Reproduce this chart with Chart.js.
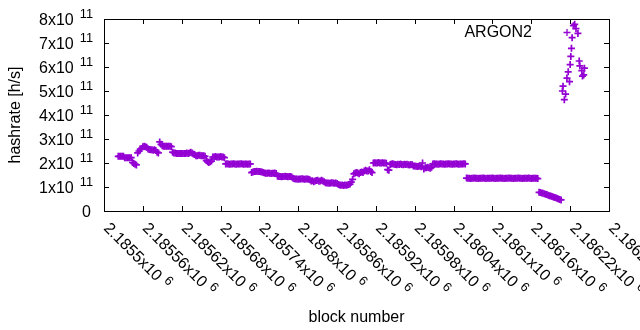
<!DOCTYPE html>
<html>
<head>
<meta charset="utf-8">
<script src="https://cdn.jsdelivr.net/npm/chart.js@4/dist/chart.umd.min.js"></script>
<style>
  html, body { margin: 0; padding: 0; background: #fff; }
  #wrap { width: 640px; height: 330px; }
</style>
</head>
<body>
<div id="wrap"><canvas id="c" width="640" height="330"></canvas></div>
<script>
/* ------------ data ------------ */
// block numbers of the plotted samples
const blockNumber = [
  2185522,2185524,2185526,2185528,2185530,2185532,2185534,2185536,2185538,2185540,2185542,
  2185544,2185546,2185548,2185550,
  2185552,2185554,2185556,2185558,
  2185560,2185562,2185564,2185566,
  2185568,2185570,2185572,2185574,2185576,2185578,2185580,
  2185582,2185584,
  2185586,2185588,
  2185590,2185592,2185594,2185596,2185598,2185600,2185602,2185604,
  2185606,2185608,2185610,2185612,2185614,2185616,2185618,2185620,2185622,2185624,2185626,2185628,2185630,2185632,2185634,2185636,2185638,2185640,
  2185642,2185644,2185646,2185648,2185650,2185652,2185654,2185656,2185658,
  2185660,2185662,2185664,2185666,
  2185668,2185670,2185672,2185674,2185676,2185678,2185680,2185682,2185684,2185686,
  2185688,2185690,2185692,2185694,2185696,2185698,2185700,2185702,2185704,2185706,2185708,2185710,2185712,2185714,2185716,2185718,2185720,2185722,2185724,2185726,
  2185728,2185730,2185732,2185734,2185736,2185738,2185740,2185742,2185744,
  2185746,2185748,2185750,2185752,2185754,2185756,2185758,2185760,2185762,2185764,2185766,
  2185768,2185770,2185772,2185774,2185776,2185778,2185780,2185782,2185784,2185786,2185788,2185790,
  2185792,2185794,2185796,2185798,2185800,2185802,2185804,2185806,2185808,2185810,2185812,2185814,2185816,2185818,
  2185820,2185822,2185824,2185826,2185828,2185830,2185832,2185834,2185836,2185838,2185840,
  2185842,2185844,2185846,2185848,2185850,2185852,2185854,2185856,2185858,2185860,
  2185862,2185864,2185866,2185868,2185870,2185872,2185874,2185876,2185878,2185880,
  2185882,2185884,
  2185886,2185888,2185890,2185892,2185894,2185896,2185898,2185900,
  2185902,2185904,2185906,2185908,2185910,2185912,2185914,
  2185916,2185918,2185920,2185922,2185924,2185926,2185928,2185930,2185932,2185934,2185936,
  2185938,2185940,
  2185942,2185944,2185946,2185948,2185950,2185952,2185954,2185956,2185958,2185960,2185962,2185964,2185966,2185968,2185970,2185972,2185974,2185976,
  2185978,2185980,2185982,2185984,2185986,2185988,2185990,
  2185992,2185994,
  2185996,2185998,2186000,2186002,2186004,2186006,
  2186008,2186010,2186012,2186014,2186016,2186018,2186020,2186022,2186024,2186026,2186028,2186030,2186032,
  2186034,2186036,2186038,2186040,2186042,2186044,2186046,2186048,2186050,2186052,2186054,2186056,2186058,
  2186060,2186062,2186064,2186066,2186068,2186070,2186072,2186074,2186076,2186078,
  2186080,2186082,2186084,2186086,2186088,2186090,2186092,2186094,2186096,2186098,
  2186100,2186102,2186104,2186106,2186108,2186110,2186112,2186114,2186116,2186118,
  2186120,2186122,2186124,2186126,2186128,2186130,2186132,2186134,2186136,2186138,
  2186140,2186142,2186144,2186146,2186148,2186150,2186152,2186154,2186156,2186158,
  2186160,2186162,2186164,2186166,2186168,2186170,
  2186172,2186174,2186176,2186178,2186180,2186182,2186184,2186186,2186188,2186190,2186192,2186194,2186196,2186198,2186200,2186202,2186204,2186206,
  2186208,2186209,2186211,2186213,2186215,2186217,2186219,2186220,2186221,2186222,2186223,
  2186225,2186227,2186229,2186232,2186234,2186235,2186238,2186239,2186241,2186242
];
// hashrate in units of 1e11 h/s, same order as blockNumber
const hashrate = [
  2.28,2.28,2.28,2.28,2.28,2.22,2.22,2.22,2.22,2.22,2.22,
  2.02,1.98,1.95,1.92,
  2.42,2.5,2.58,2.6,
  2.68,2.7,2.68,2.66,
  2.58,2.56,2.55,2.55,2.53,2.55,2.52,
  2.45,2.42,
  2.88,2.78,
  2.72,2.7,2.7,2.7,2.7,2.7,2.7,2.68,
  2.45,2.42,2.42,2.4,2.4,2.4,2.4,2.4,2.4,2.4,2.4,2.42,2.4,2.42,2.45,2.42,2.38,2.35,
  2.3,2.3,2.32,2.32,2.3,2.3,2.3,2.28,2.1,
  2.05,2.02,2.05,2.08,
  2.25,2.25,2.27,2.25,2.25,2.25,2.27,2.25,2.25,2.22,
  1.96,1.97,1.96,1.95,1.96,1.96,1.97,1.96,1.95,1.96,1.96,1.96,1.97,1.96,1.95,1.96,1.96,1.95,1.96,1.96,
  1.6,1.63,1.65,1.65,1.66,1.65,1.65,1.64,1.62,
  1.6,1.58,1.57,1.57,1.58,1.57,1.56,1.57,1.57,1.58,1.56,
  1.45,1.44,1.44,1.43,1.44,1.44,1.45,1.44,1.43,1.44,1.44,1.42,
  1.36,1.34,1.33,1.33,1.32,1.33,1.33,1.34,1.33,1.32,1.33,1.33,1.32,1.3,
  1.25,1.26,1.22,1.25,1.27,1.28,1.24,1.25,1.28,1.25,1.22,
  1.18,1.17,1.17,1.16,1.17,1.18,1.17,1.16,1.17,1.15,
  1.1,1.08,1.07,1.08,1.06,1.08,1.07,1.08,1.1,1.12,
  1.2,1.32,
  1.55,1.58,1.6,1.58,1.55,1.6,1.62,1.6,
  1.67,1.7,1.67,1.67,1.72,1.65,1.6,
  2.0,2.01,2.0,2.0,2.02,2.0,2.0,2.01,2.0,2.0,1.99,
  1.72,1.7,
  1.94,1.96,1.97,1.95,1.94,1.93,1.95,1.94,1.96,1.94,1.93,1.95,1.94,1.95,1.93,1.92,1.94,1.93,
  1.88,1.87,1.86,1.85,1.86,1.87,1.84,
  2.0,1.75,
  1.8,1.8,1.82,1.8,1.78,1.82,
  1.96,1.97,1.96,1.96,1.95,1.96,1.97,1.96,1.96,1.95,1.96,1.96,1.97,
  1.96,1.96,1.95,1.96,1.96,1.97,1.96,1.95,1.96,1.96,1.96,1.97,1.96,
  1.37,1.36,1.36,1.35,1.36,1.36,1.37,1.36,1.36,1.35,
  1.36,1.36,1.36,1.37,1.36,1.35,1.36,1.36,1.36,1.36,
  1.37,1.36,1.35,1.36,1.36,1.36,1.37,1.36,1.36,1.35,
  1.36,1.36,1.36,1.37,1.36,1.36,1.35,1.36,1.36,1.36,
  1.37,1.36,1.36,1.35,1.36,1.36,1.36,1.36,1.37,1.36,
  1.35,1.36,1.36,1.36,1.36,1.35,
  0.78,0.77,0.75,0.74,0.72,0.7,0.69,0.66,0.64,0.63,0.6,0.58,0.56,0.55,0.52,0.5,0.48,0.46,
  5.0,5.2,4.64,4.87,5.54,5.8,5.39,6.1,6.44,6.78,7.22,
  7.72,7.78,7.6,7.4,6.25,6.05,5.85,5.62,5.67,5.95
];

// axis ticks
const xTicks = [2185500,2185560,2185620,2185680,2185740,2185800,2185860,2185920,2185980,2186040,2186100,2186160,2186220,2186280];
const yTicks = [0,1,2,3,4,5,6,7,8];
const yExponent = '11';
const xExponent = '6';
const seriesName = 'ARGON2';

/* ------------ style ------------ */
const PURPLE = '#9400d3';
const FONT = '"Liberation Sans", Arial, sans-serif';
const TICK = 5;
const font = px => `${px}px ${FONT}`;

function plus(ctx, cx, cy, r) {
  ctx.beginPath();
  ctx.moveTo(cx - r, cy); ctx.lineTo(cx + r, cy);
  ctx.moveTo(cx, cy - r); ctx.lineTo(cx, cy + r);
  ctx.stroke();
}

/* ------------ gnuplot-like frame, tics and labels ------------ */
const gnuFrame = {
  id: 'gnuFrame',
  afterDraw(chart) {
    const { ctx, chartArea: a, scales: { x, y } } = chart;
    ctx.save();
    ctx.strokeStyle = '#000';
    ctx.lineWidth = 1;

    // inward tics on all four sides
    ctx.beginPath();
    xTicks.forEach(v => {
      const px = Math.round(x.getPixelForValue(v)) + 0.5;
      ctx.moveTo(px, a.bottom); ctx.lineTo(px, a.bottom - TICK);
      ctx.moveTo(px, a.top);    ctx.lineTo(px, a.top + TICK);
    });
    yTicks.forEach(v => {
      const py = Math.round(y.getPixelForValue(v)) + 0.5;
      ctx.moveTo(a.left, py);  ctx.lineTo(a.left + TICK, py);
      ctx.moveTo(a.right, py); ctx.lineTo(a.right - TICK, py);
    });
    ctx.stroke();
    ctx.strokeRect(a.left + 0.5, a.top + 0.5, a.right - a.left, a.bottom - a.top);

    ctx.fillStyle = '#000';
    ctx.textBaseline = 'alphabetic';

    // y tic labels  "Nx10^11"
    yTicks.forEach(v => {
      const py = y.getPixelForValue(v);
      if (v === 0) {
        ctx.font = font(16); ctx.textAlign = 'right';
        ctx.fillText('0', a.left - 13, py + 5.5);
        return;
      }
      const base = `${v}x10`;
      ctx.font = font(12.8); const sw = ctx.measureText(yExponent).width;
      ctx.font = font(16);   const bw = ctx.measureText(base).width;
      const x0 = a.left - 11 - sw - 6 - bw;
      ctx.textAlign = 'left';
      ctx.fillText(base, x0, py + 5.5);
      ctx.font = font(12.8);
      ctx.fillText(yExponent, x0 + bw + 6, py - 1);
    });

    // x tic labels, rotated 45deg clockwise
    xTicks.forEach(v => {
      const px = x.getPixelForValue(v);
      const base = `${Number((v / 1e6).toFixed(5))}x10`;
      ctx.save();
      ctx.translate(px - 1, a.bottom + 18);
      ctx.rotate(Math.PI / 4);
      ctx.textAlign = 'left';
      ctx.font = font(16);
      ctx.fillText(base, 0, 0);
      const bw = ctx.measureText(base).width;
      ctx.font = font(12.8);
      ctx.fillText(xExponent, bw + 5, -6);
      ctx.restore();
    });

    // axis titles
    ctx.font = font(16);
    ctx.textAlign = 'center';
    ctx.fillText('block number', (a.left + a.right) / 2, 322);
    ctx.save();
    ctx.translate(20, (a.top + a.bottom) / 2);
    ctx.rotate(-Math.PI / 2);
    ctx.fillText('hashrate [h/s]', 0, 0);
    ctx.restore();

    // key
    ctx.textAlign = 'right';
    ctx.fillText(seriesName, a.right - 77, a.top + 18);
    ctx.strokeStyle = PURPLE;
    ctx.lineWidth = 1.3;
    plus(ctx, a.right - 42, a.top + 13.5, 3.5);

    ctx.restore();
  }
};

/* ------------ chart ------------ */
const points = blockNumber.map((b, i) => ({ x: b, y: hashrate[i] }));

new Chart(document.getElementById('c'), {
  type: 'scatter',
  data: {
    datasets: [{
      label: seriesName,
      data: points,
      pointStyle: 'cross',
      pointRadius: 3.5,
      pointHoverRadius: 3.5,
      pointBorderWidth: 1.7,
      pointBorderColor: PURPLE,
      pointBackgroundColor: PURPLE
    }]
  },
  options: {
    responsive: false,
    animation: false,
    devicePixelRatio: 1,
    layout: { padding: { left: 104, right: 31, top: 19, bottom: 119 } },
    scales: {
      x: { type: 'linear', display: false, min: xTicks[0], max: xTicks[xTicks.length - 1] },
      y: { type: 'linear', display: false, min: yTicks[0], max: yTicks[yTicks.length - 1] }
    },
    plugins: { legend: { display: false }, tooltip: { enabled: false } }
  },
  plugins: [gnuFrame]
});
</script>
</body>
</html>
